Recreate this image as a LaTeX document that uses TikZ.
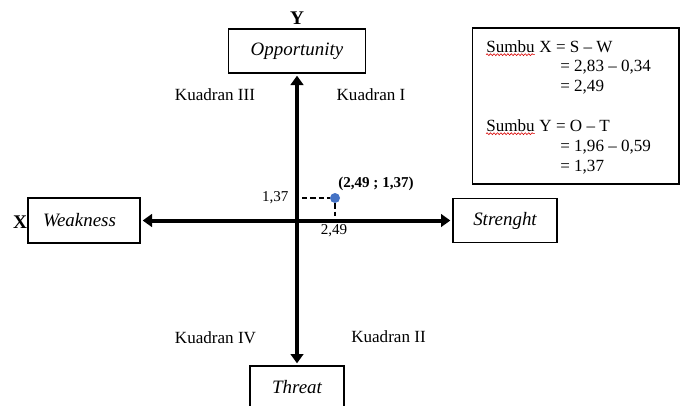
\documentclass[tikz,border=0pt]{standalone}
\usepackage{fontspec}
\setmainfont{Liberation Serif}
\usetikzlibrary{arrows.meta,decorations.pathmorphing}
\definecolor{ptblue}{RGB}{68,114,196}

\begin{document}
\begin{tikzpicture}[
  x=0.75pt, y=-0.75pt,
  box/.style={draw, line width=1pt, inner sep=0pt,
              font=\fontsize{14.2}{17}\selectfont\itshape},
  axis/.style={line width=3pt,
               {Triangle[length=7pt,width=9.5pt]}-{Triangle[length=7pt,width=9.5pt]},
               shorten <=1.5pt, shorten >=1.5pt},
  quad/.style={font=\fontsize{12.8}{15}\selectfont},
  val/.style={font=\fontsize{11.3}{13}\selectfont, inner sep=1pt},
  calc/.style={font=\fontsize{12.8}{15}\selectfont, inner sep=0pt, anchor=base west},
  guide/.style={line width=0.9pt, dash pattern=on 4pt off 2.2pt},
  wavy/.style={draw=red!85!black, line width=0.45pt, decorate,
               decoration={snake, amplitude=0.7pt, segment length=2.6pt}}
]
\useasboundingbox (0,0) rectangle (680,405);

% --- Four factor boxes ---
\node[box, minimum width=102.75pt, minimum height=33pt] (opp) at (297,51) {Opportunity};
\node[box, minimum width=70.5pt, minimum height=32.25pt] (thr) at (297,387.5) {Threat};
\node[box, minimum width=84pt, minimum height=33.75pt] (weak) at (84,220.5) {Weakness\hspace*{6.8pt}};
\node[box, minimum width=78pt, minimum height=33pt] (str) at (505,220.5) {Strenght};

% --- Axis names ---
\node[font=\fontsize{14.5}{17}\selectfont\bfseries] (ylab) at (297,18) {Y};
\node[font=\fontsize{14.5}{17}\selectfont\bfseries] (xlab) at (20,222) {X};

% --- Axes ---
\draw[axis] (thr.north) -- (opp.south);
\draw[axis] (weak.east) -- (str.west);

% --- Quadrant names ---
\node[quad] (q3) at (215,95) {Kuadran III};
\node[quad] (q1) at (371,95) {Kuadran I};
\node[quad] (q4) at (215.5,338) {Kuadran IV};
\node[quad] (q2) at (388.5,337) {Kuadran II};

% --- Position point ---
\node[circle, fill=ptblue, inner sep=0pt, minimum size=7.5pt] (pt) at (335,198) {};
\node[val, anchor=east] (yval) at (290,198) {1,37};
\node[val] (xval) at (334,231) {2,49};
\node[val, font=\fontsize{11.3}{13}\selectfont\bfseries] (ptlab) at (376,184) {(2,49 ; 1,37)};
\coordinate (py) at (302,198);
\coordinate (px) at (335,216);
\draw[guide] (py) -- (pt);
\draw[guide] (pt) -- (px);

% --- Calculation box ---
\node[draw, line width=1pt, minimum width=155pt, minimum height=117pt] (info) at (575.5,106) {};
\node[calc] (su1) at (486,52) {Sumbu};
\node[calc] (sx) at (su1.base east) {\ X = S -- W};
\node[calc] (sx2) at (560,71) {= 2,83 -- 0,34};
\node[calc] (sx3) at (560,91) {= 2,49};
\node[calc] (su2) at (486,131) {Sumbu};
\node[calc] (sy) at (su2.base east) {\ Y = O -- T};
\node[calc] (sy2) at (560,151) {= 1,96 -- 0,59};
\node[calc] (sy3) at (560,171) {= 1,37};
\draw[wavy] ([yshift=-2pt]su1.base west) -- ([yshift=-2pt]su1.base east);
\draw[wavy] ([yshift=-2pt]su2.base west) -- ([yshift=-2pt]su2.base east);

\end{tikzpicture}
\end{document}
